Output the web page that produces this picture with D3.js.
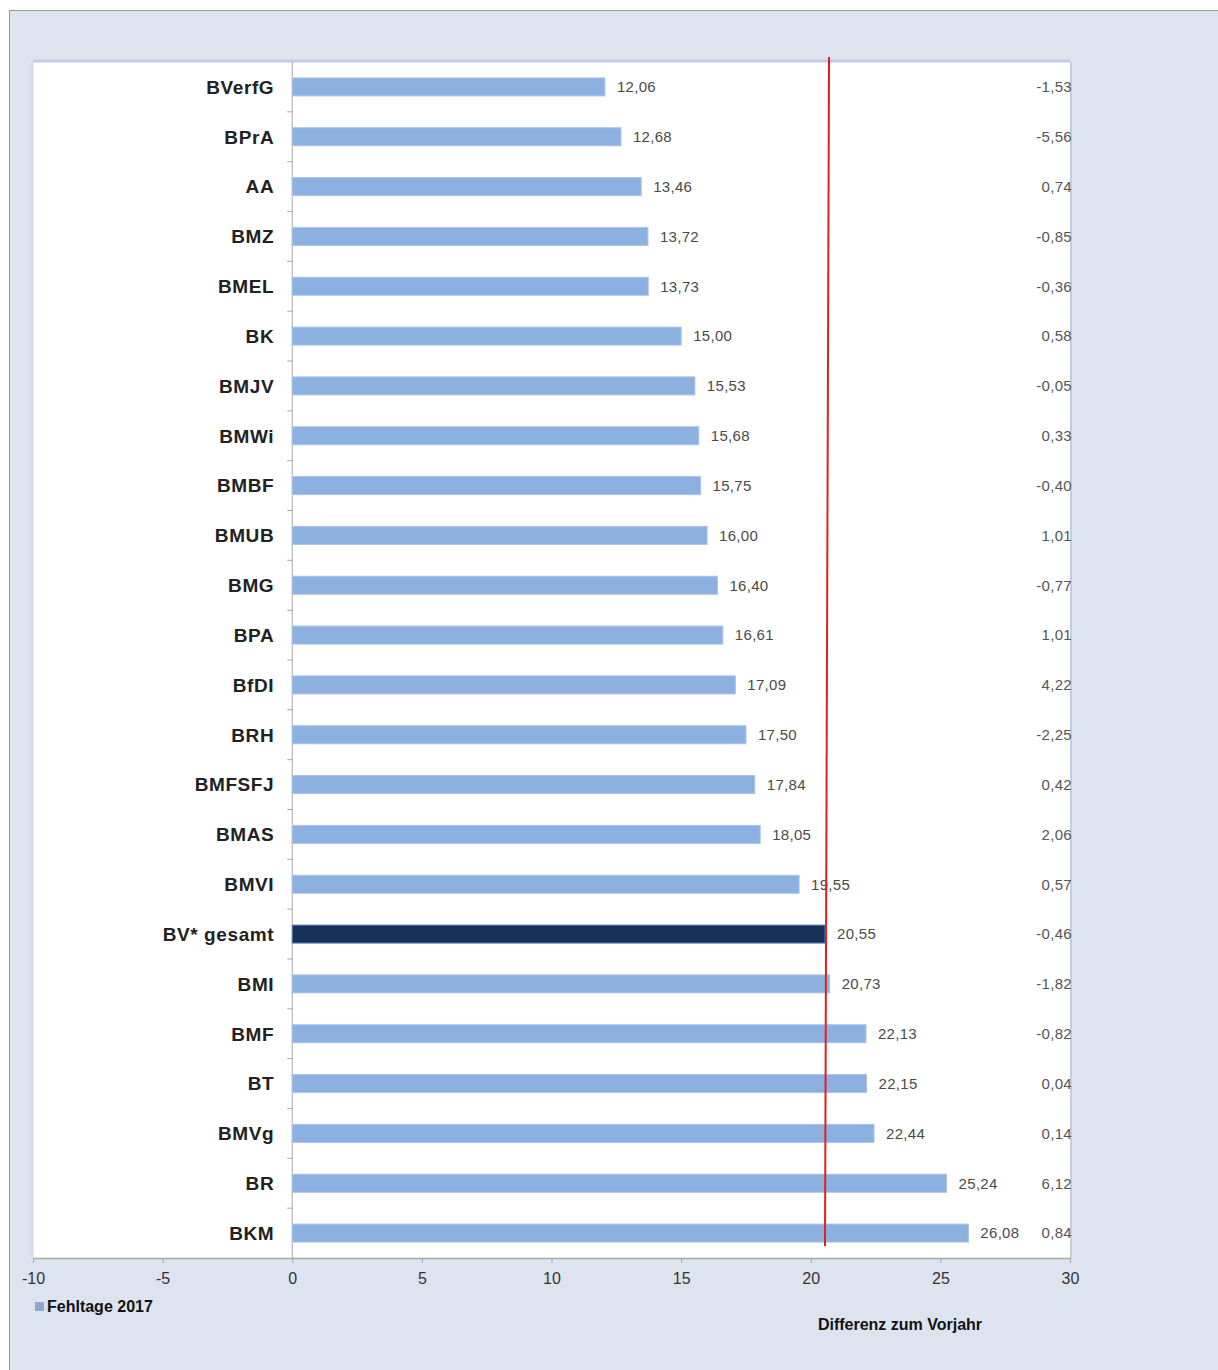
<!DOCTYPE html>
<html>
<head>
<meta charset="utf-8">
<script src="https://cdn.jsdelivr.net/npm/d3@7"></script>
<style>
  html, body { margin: 0; padding: 0; background: #fff; }
  svg { display: block; font-family: "Liberation Sans", Arial, sans-serif; }
</style>
</head>
<body>
<div id="chart"></div>
<script>
// Categories (top to bottom)
const categories = ["BVerfG", "BPrA", "AA", "BMZ", "BMEL", "BK", "BMJV", "BMWi", "BMBF", "BMUB",
  "BMG", "BPA", "BfDI", "BRH", "BMFSFJ", "BMAS", "BMVI", "BV* gesamt", "BMI", "BMF", "BT",
  "BMVg", "BR", "BKM"];

// Fehltage 2017
const fehltage = [12.06, 12.68, 13.46, 13.72, 13.73, 15.00, 15.53, 15.68, 15.75, 16.00,
  16.40, 16.61, 17.09, 17.50, 17.84, 18.05, 19.55, 20.55, 20.73, 22.13, 22.15,
  22.44, 25.24, 26.08];

// Differenz zum Vorjahr
const differenz = [-1.53, -5.56, 0.74, -0.85, -0.36, 0.58, -0.05, 0.33, -0.40, 1.01,
  -0.77, 1.01, 4.22, -2.25, 0.42, 2.06, 0.57, -0.46, -1.82, -0.82, 0.04,
  0.14, 6.12, 0.84];

const xTicks = [-10, -5, 0, 5, 10, 15, 20, 25, 30];
const totalLabel = "BV* gesamt";
const referenceValue = 20.55;

const width = 1218, height = 1370;
const margin = { top: 62, right: 148, bottom: 112, left: 33 };
const innerW = width - margin.left - margin.right;
const innerH = height - margin.top - margin.bottom;

const fmt = v => d3.format(".2f")(v).replace(".", ",").replace("−", "-");

const svg = d3.select("#chart").append("svg")
  .attr("width", width)
  .attr("height", height);

// outer frame
svg.append("rect")
  .attr("x", 9.5).attr("y", 10.5)
  .attr("width", width).attr("height", height)
  .attr("fill", "#dde4ef")
  .attr("stroke", "#9a9a9a");

const chart = svg.append("g")
  .attr("transform", `translate(${margin.left},${margin.top})`);

const xScale = d3.scaleLinear().domain([-10, 30]).range([0, innerW]);
const yScale = d3.scaleBand().domain(categories).range([0, innerH]).padding(0);

// plot area
chart.append("rect")
  .attr("x", 0).attr("y", 0)
  .attr("width", innerW).attr("height", innerH)
  .attr("fill", "#fff");
chart.append("line")
  .attr("x1", 0).attr("x2", innerW).attr("y1", -1).attr("y2", -1)
  .attr("stroke", "#c5c9ea").attr("stroke-width", 3);
chart.append("line")
  .attr("x1", -1).attr("x2", -1).attr("y1", 0).attr("y2", innerH)
  .attr("stroke", "#d2dcec").attr("stroke-width", 3);
chart.append("line")
  .attr("x1", innerW + 1).attr("x2", innerW + 1).attr("y1", 0).attr("y2", innerH)
  .attr("stroke", "#c2cde2").attr("stroke-width", 2);

// x axis
const xAxis = d3.axisBottom(xScale)
  .tickValues(xTicks)
  .tickSize(5)
  .tickSizeOuter(0)
  .tickFormat(d => d);
const xAxisG = chart.append("g")
  .attr("transform", `translate(0,${innerH})`)
  .call(xAxis);
xAxisG.select(".domain").attr("stroke", "#a8a8a8").attr("stroke-width", 1.5);
xAxisG.selectAll(".tick line").attr("stroke", "#a8a8a8");
xAxisG.selectAll(".tick text")
  .attr("y", 15)
  .attr("fill", "#333")
  .style("font-size", "16px")
  .style("font-family", "Liberation Sans, Arial, sans-serif");

// y axis at zero with tick marks between categories
const yAxisG = chart.append("g")
  .attr("transform", `translate(${xScale(0)},0)`);
yAxisG.append("line")
  .attr("y1", 0).attr("y2", innerH)
  .attr("stroke", "#a8a8a8");
yAxisG.selectAll(".sep")
  .data(categories.slice(1))
  .join("line")
  .attr("class", "sep")
  .attr("x1", -5).attr("x2", 0)
  .attr("y1", d => yScale(d))
  .attr("y2", d => yScale(d))
  .attr("stroke", "#a8a8a8");

// category labels
chart.selectAll(".cat")
  .data(categories)
  .join("text")
  .attr("class", "cat")
  .attr("x", xScale(0) - 18)
  .attr("y", d => yScale(d) + yScale.bandwidth() / 2)
  .attr("dy", "0.36em")
  .attr("text-anchor", "end")
  .attr("fill", "#222")
  .style("font-size", "19px")
  .style("letter-spacing", "0.6px")
  .style("font-weight", "bold")
  .text(d => d);

// bars
const barH = 18;
chart.selectAll(".bar")
  .data(categories)
  .join("rect")
  .attr("class", "bar")
  .attr("x", xScale(0))
  .attr("y", d => yScale(d) + yScale.bandwidth() / 2 - barH / 2)
  .attr("width", (d, i) => xScale(fehltage[i]) - xScale(0))
  .attr("height", barH)
  .attr("fill", d => d === totalLabel ? "#17305a" : "#8cb0e0")
  .attr("stroke", d => d === totalLabel ? "#5b7bb0" : "#a9c3ea")
  .attr("stroke-width", 1);

// value labels
chart.selectAll(".val")
  .data(categories)
  .join("text")
  .attr("class", "val")
  .attr("x", (d, i) => xScale(fehltage[i]) + 12)
  .attr("y", d => yScale(d) + yScale.bandwidth() / 2)
  .attr("dy", "0.36em")
  .attr("fill", "#4a4a4a")
  .style("font-size", "15px")
  .style("letter-spacing", "0.3px")
  .text((d, i) => fmt(fehltage[i]));

// differenz labels at right edge
chart.selectAll(".diff")
  .data(categories)
  .join("text")
  .attr("class", "diff")
  .attr("x", innerW + 2)
  .attr("y", d => yScale(d) + yScale.bandwidth() / 2)
  .attr("dy", "0.36em")
  .attr("text-anchor", "end")
  .attr("fill", "#555")
  .style("font-size", "15px")
  .style("letter-spacing", "0.3px")
  .text((d, i) => fmt(differenz[i]));

// reference line (BV gesamt)
chart.append("line")
  .attr("x1", xScale(referenceValue) + 4).attr("y1", -5)
  .attr("x2", xScale(referenceValue)).attr("y2", innerH - 12)
  .attr("stroke", "#e0201c")
  .attr("stroke-width", 2);

// legend
const legend = svg.append("g")
  .attr("transform", `translate(${margin.left + 2},${margin.top + innerH + 48})`);
legend.append("rect")
  .attr("x", 0).attr("y", -4)
  .attr("width", 9).attr("height", 9)
  .attr("fill", "#8fa6cf");
legend.append("text")
  .attr("x", 12).attr("y", 0)
  .attr("dy", "0.36em")
  .attr("fill", "#111")
  .style("font-size", "16px")
  .style("font-weight", "bold")
  .text("Fehltage 2017");

svg.append("text")
  .attr("x", 900).attr("y", margin.top + innerH + 66)
  .attr("dy", "0.36em")
  .attr("text-anchor", "middle")
  .attr("fill", "#111")
  .style("font-size", "16px")
  .style("font-weight", "bold")
  .text("Differenz zum Vorjahr");
</script>
</body>
</html>
